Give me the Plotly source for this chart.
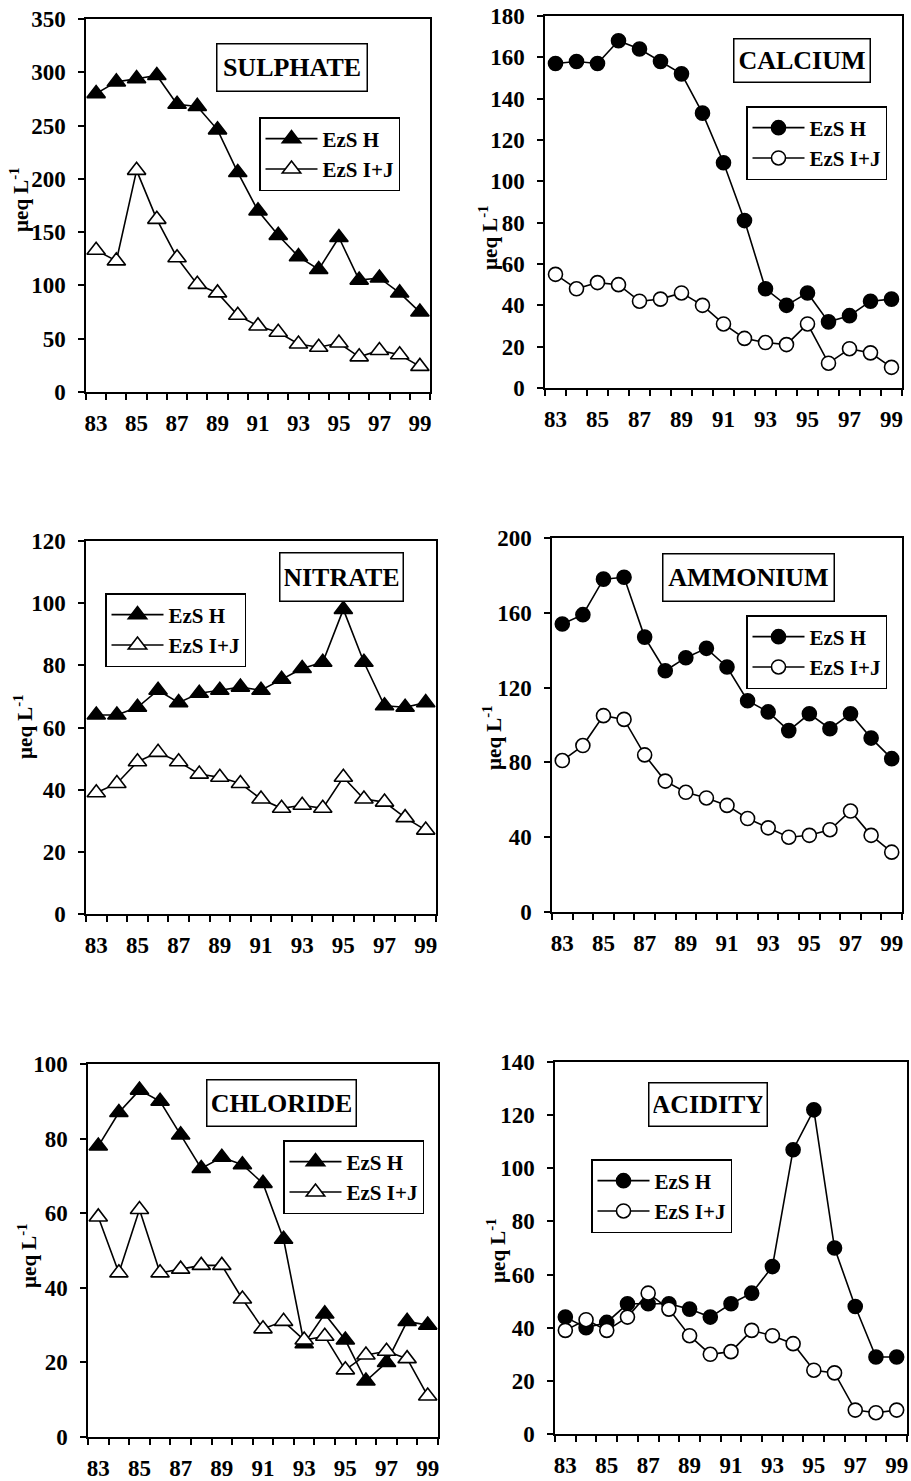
import plotly.graph_objects as go

# Sampling years (19xx), shown as two-digit labels
years = list(range(83, 100))
year_labels = [str(y) for y in range(83, 100, 2)]

# Mean concentrations (µeq L-1) at EzS H and EzS I+J
sulphate_h = [280, 291, 294, 297, 270, 268, 246, 206, 170, 147, 127, 115, 145, 105, 107, 93, 75]
sulphate_ij = [133, 123, 208, 162, 126, 101, 93, 72, 62, 56, 45, 42, 46, 33, 39, 35, 24]

calcium_h = [157, 158, 157, 168, 164, 158, 152, 133, 109, 81, 48, 40, 46, 32, 35, 42, 43]
calcium_ij = [55, 48, 51, 50, 42, 43, 46, 40, 31, 24, 22, 21, 31, 12, 19, 17, 10]

nitrate_h = [64, 64, 66.5, 72, 68, 71, 72, 73, 72, 75.5, 79, 81, 98, 81, 67, 66.5, 68]
nitrate_ij = [39, 42, 49, 52, 49, 45, 44, 42, 37, 34, 35, 34, 44, 37, 36, 31, 27]

ammonium_h = [154, 159, 178, 179, 147, 129, 136, 141, 131, 113, 107, 97, 106, 98, 106, 93, 82]
ammonium_ij = [81, 89, 105, 103, 84, 70, 64, 61, 57, 50, 45, 40, 41, 44, 54, 41, 32]

chloride_h = [78, 87, 93, 90, 81, 72, 75, 73, 68, 53, 25, 33, 26, 15, 20, 31, 30]
chloride_ij = [59, 44, 61, 44, 45, 46, 46, 37, 29, 31, 26, 27, 18, 22, 23, 21, 11]

acidity_h = [44, 40, 42, 49, 49, 49, 47, 44, 49, 53, 63, 107, 122, 70, 48, 29, 29]
acidity_ij = [39, 43, 39, 44, 53, 47, 37, 30, 31, 39, 37, 34, 24, 23, 9, 8, 9]

series_names = ["EzS H", "EzS I+J"]
unit_label = "<b>µeq L<sup>-1</sup></b>"

W, H = 911, 1481
FONT = "Liberation Serif"

# (label, H values, I+J values, marker, y max, y step,
#  plot box px (l, t, r, b), title box px (l, t, r, b),
#  legend top-left px, unit label centre px)
panels = [
    ("SULPHATE", sulphate_h, sulphate_ij, "triangle-up", 350, 50,
     (86, 19, 430, 392), (216, 43, 368, 92), (259, 117), (20, 200)),
    ("CALCIUM", calcium_h, calcium_ij, "circle", 180, 20,
     (545, 16, 902, 388), (733, 38, 871, 83), (746, 106), (488, 237)),
    ("NITRATE", nitrate_h, nitrate_ij, "triangle-up", 120, 20,
     (86, 541, 436, 914), (279, 552, 404, 602), (105, 593), (23, 727)),
    ("AMMONIUM", ammonium_h, ammonium_ij, "circle", 200, 40,
     (552, 538, 902, 912), (662, 553, 835, 602), (746, 615), (492, 737)),
    ("CHLORIDE", chloride_h, chloride_ij, "triangle-up", 100, 20,
     (88, 1064, 438, 1437), (206, 1079, 357, 1127), (283, 1140), (27, 1256)),
    ("ACIDITY", acidity_h, acidity_ij, "circle", 140, 20,
     (555, 1062, 907, 1434), (648, 1082, 768, 1127), (591, 1159), (496, 1250)),
]

fig = go.Figure()
layout = dict(
    width=W, height=H,
    margin=dict(l=0, r=0, t=0, b=0, pad=0, autoexpand=False),
    paper_bgcolor="white", plot_bgcolor="white",
    font=dict(family=FONT, color="black", size=21),
    annotations=[],
)

for i, (label, vh, vij, sym, ymax, ystep, box, tbox, lpos, upos) in enumerate(panels, start=1):
    sfx = "" if i == 1 else str(i)
    leg = "legend" if i == 1 else f"legend{i}"
    msize = 16 if sym.startswith("triangle") else 14

    for name, vals, fill in ((series_names[0], vh, "black"), (series_names[1], vij, "white")):
        fig.add_trace(go.Scatter(
            x=years, y=vals, name=f"<b>{name}</b>", mode="lines+markers",
            xaxis=f"x{sfx}", yaxis=f"y{sfx}", legend=leg,
            line=dict(color="black", width=1.6),
            marker=dict(symbol=sym, size=msize, color=fill,
                        line=dict(color="black", width=1.6)),
            showlegend=True,
        ))

    l, t, r, b = box
    layout[f"xaxis{sfx}"] = dict(
        domain=[l / W, r / W], anchor=f"y{sfx}", automargin=False,
        range=[82.5, 99.5], tickmode="array",
        tickvals=list(range(83, 100, 2)), ticktext=year_labels,
        ticks="", showline=True, mirror=True, linecolor="black", linewidth=1.5,
        showgrid=False, zeroline=False,
        tickfont=dict(family=FONT, size=23, weight="bold"),
        ticklabelstandoff=10,
        minor=dict(tickmode="array", tickvals=[82.5 + k for k in range(18)],
                   ticks="outside", ticklen=6, tickwidth=1.5, tickcolor="black",
                   showgrid=False),
    )
    layout[f"yaxis{sfx}"] = dict(
        domain=[1 - b / H, 1 - t / H], anchor=f"x{sfx}", automargin=False,
        range=[0, ymax], dtick=ystep, tick0=0,
        ticks="outside", ticklen=6, tickwidth=1.5, tickcolor="black",
        showline=True, mirror=True, linecolor="black", linewidth=1.5,
        showgrid=False, zeroline=False,
        tickfont=dict(family=FONT, size=23, weight="bold"),
        ticklabelstandoff=8,
    )

    # rotated unit label beside the value axis
    ux, uy = upos
    layout["annotations"].append(dict(
        xref="paper", yref="paper", x=ux / W, y=1 - uy / H,
        xanchor="center", yanchor="middle", textangle=-90,
        text=unit_label, showarrow=False,
        font=dict(family=FONT, size=21, color="black"),
    ))

    # boxed panel title
    tl, tt, tr, tb = tbox
    pad = 4
    layout["annotations"].append(dict(
        xref="paper", yref="paper",
        x=(tl + tr) / 2 / W, y=1 - (tt + tb) / 2 / H,
        xanchor="center", yanchor="middle",
        text=f"<b>{label}</b>", showarrow=False,
        font=dict(family=FONT, size=26, color="black"),
        width=tr - tl - 2 * pad - 3, height=tb - tt - 2 * pad - 3,
        borderpad=pad, bordercolor="black", borderwidth=1.5, bgcolor="white",
    ))

    lx, ly = lpos
    layout[leg] = dict(
        x=lx / W, y=1 - ly / H, xanchor="left", yanchor="top",
        xref="paper", yref="paper",
        bordercolor="black", borderwidth=1.5, bgcolor="white",
        font=dict(family=FONT, size=21, color="black"),
        tracegroupgap=0, itemwidth=52,
    )

fig.update_layout(**layout)
fig.write_html("out.html")
